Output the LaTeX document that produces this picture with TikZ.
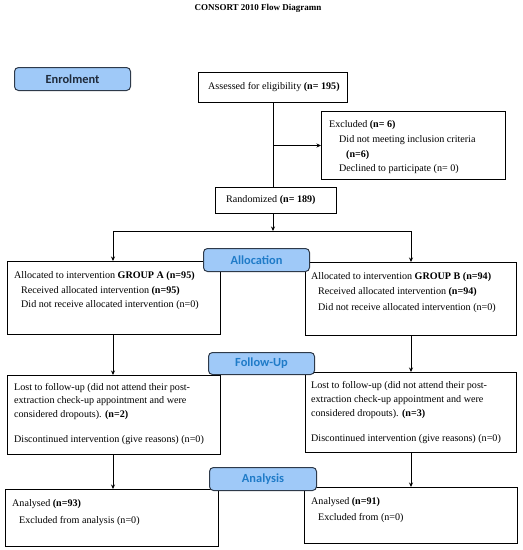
\documentclass[tikz,border=0pt]{standalone}
\usepackage{fontspec}
\setmainfont{Liberation Serif}
\newfontfamily\labelfont{Carlito}
\usetikzlibrary{arrows.meta}
\definecolor{lblfill}{HTML}{9FC9F8}
\definecolor{lbldraw}{HTML}{2E3A4A}
\definecolor{lbltext}{HTML}{1F7BC8}
\definecolor{enrtext}{HTML}{1F2A3A}
\begin{document}
\begin{tikzpicture}[x=1pt,y=-1pt,
  box/.style={draw, line width=1pt, inner sep=0pt, anchor=north west},
  lbl/.style={draw=lbldraw, fill=lblfill, rounded corners=4pt, line width=1pt,
    font=\labelfont\bfseries\fontsize{12.4}{14}\selectfont, text=lbltext, inner sep=0pt, anchor=north west},
  txt/.style={anchor=mid west, inner sep=0pt, font=\fontsize{10.1}{12}\selectfont},
  arr/.style={-{Stealth[length=4.5pt,width=4pt]}, line width=1pt},
  ln/.style={line width=1pt}]
\useasboundingbox (0,0) rectangle (523,550);

% title
\node[inner sep=0pt, font=\bfseries\fontsize{9}{10}\selectfont] (title) at (258,8) {CONSORT 2010 Flow Diagramn};

% boxes
\node[box, minimum width=149pt, minimum height=30pt] (assess) at (198,72) {};
\node[box, minimum width=184pt, minimum height=68pt] (excl) at (321,111) {};
\node[box, minimum width=121pt, minimum height=26pt] (random) at (215,187) {};
\node[box, minimum width=213pt, minimum height=73pt] (allocA) at (7,261) {};
\node[box, minimum width=211pt, minimum height=73pt] (allocB) at (305,262) {};
\node[box, minimum width=213pt, minimum height=79pt] (followA) at (7,375) {};
\node[box, minimum width=211pt, minimum height=80pt] (followB) at (305,372) {};
\node[box, minimum width=213pt, minimum height=57pt] (anaA) at (5,489) {};
\node[box, minimum width=213pt, minimum height=56pt] (anaB) at (304,487) {};

% texts
\node[txt] (tassess) at (208,87) {Assessed for eligibility \textbf{(n= 195)}};
\node[txt] (te1) at (329,125) {Excluded \textbf{(n= 6)}};
\node[txt] (te2) at (339,140) {Did not meeting inclusion criteria};
\node[txt] (te3) at (346,155) {\textbf{(n=6)}};
\node[txt] (te4) at (339,169) {Declined to participate (n= 0)};
\node[txt] (trand) at (226,200) {Randomized \textbf{(n= 189)}};

\node[txt] (ta1) at (14,276) {Allocated to intervention \textbf{GROUP A (n=95)}};
\node[txt] (ta2) at (21,291) {Received allocated intervention \textbf{(n=95)}};
\node[txt] (ta3) at (21,305) {Did not receive allocated intervention (n=0)};
\node[txt] (tb1) at (311,277) {Allocated to intervention \textbf{GROUP B (n=94)}};
\node[txt] (tb2) at (318,292) {Received allocated intervention \textbf{(n=94)}};
\node[txt] (tb3) at (318,308) {Did not receive allocated intervention (n=0)};

\node[txt] (tfa1) at (14,388) {Lost to follow-up (did not attend their post-};
\node[txt] (tfa2) at (14,401) {extraction check-up appointment and were};
\node[txt] (tfa3) at (14,415) {considered dropouts). \textbf{(n=2)}};
\node[txt] (tfa4) at (14,440) {Discontinued intervention (give reasons) (n=0)};
\node[txt] (tfb1) at (311,386) {Lost to follow-up (did not attend their post-};
\node[txt] (tfb2) at (311,400) {extraction check-up appointment and were};
\node[txt] (tfb3) at (311,414) {considered dropouts). \textbf{(n=3)}};
\node[txt] (tfb4) at (311,439) {Discontinued intervention (give reasons) (n=0)};

\node[txt] (tna1) at (12,504) {Analysed \textbf{(n=93)}};
\node[txt] (tna2) at (19,521) {Excluded from analysis (n=0)};
\node[txt] (tnb1) at (311,502) {Analysed \textbf{(n=91)}};
\node[txt] (tnb2) at (318,518) {Excluded from (n=0)};

% connectors
\coordinate (sa) at (113,231);
\coordinate (sb) at (411,231);
\coordinate (trunk) at (273,231);
\draw[ln] (assess.south -| trunk) -- (trunk |- random.north);
\draw[arr] (trunk |- excl.west) -- (excl.west);
\draw[arr] (trunk |- random.south) -- (trunk);
\draw[ln] (sa) -- (sb);
\draw[arr] (sa) -- (sa |- allocA.north);
\draw[arr] (sb) -- (sb |- allocB.north);
\draw[arr] (sa |- allocA.south) -- (sa |- followA.north);
\draw[arr] (sb |- allocB.south) -- (sb |- followB.north);
\draw[arr] (sa |- followA.south) -- (sa |- anaA.north);
\draw[arr] (sb |- followB.south) -- (sb |- anaB.north);

% stage labels
\node[lbl, text=enrtext, minimum width=116pt, minimum height=23pt] (enrol) at (14,67) {Enrolment};
\node[lbl, minimum width=106pt, minimum height=23pt] (alloc) at (203,248) {Allocation};
\node[lbl, minimum width=106pt, minimum height=22pt] (follow) at (208,352) {Follow-Up};
\node[lbl, minimum width=107pt, minimum height=23pt] (analysis) at (209,467) {Analysis};
\end{tikzpicture}
\end{document}
